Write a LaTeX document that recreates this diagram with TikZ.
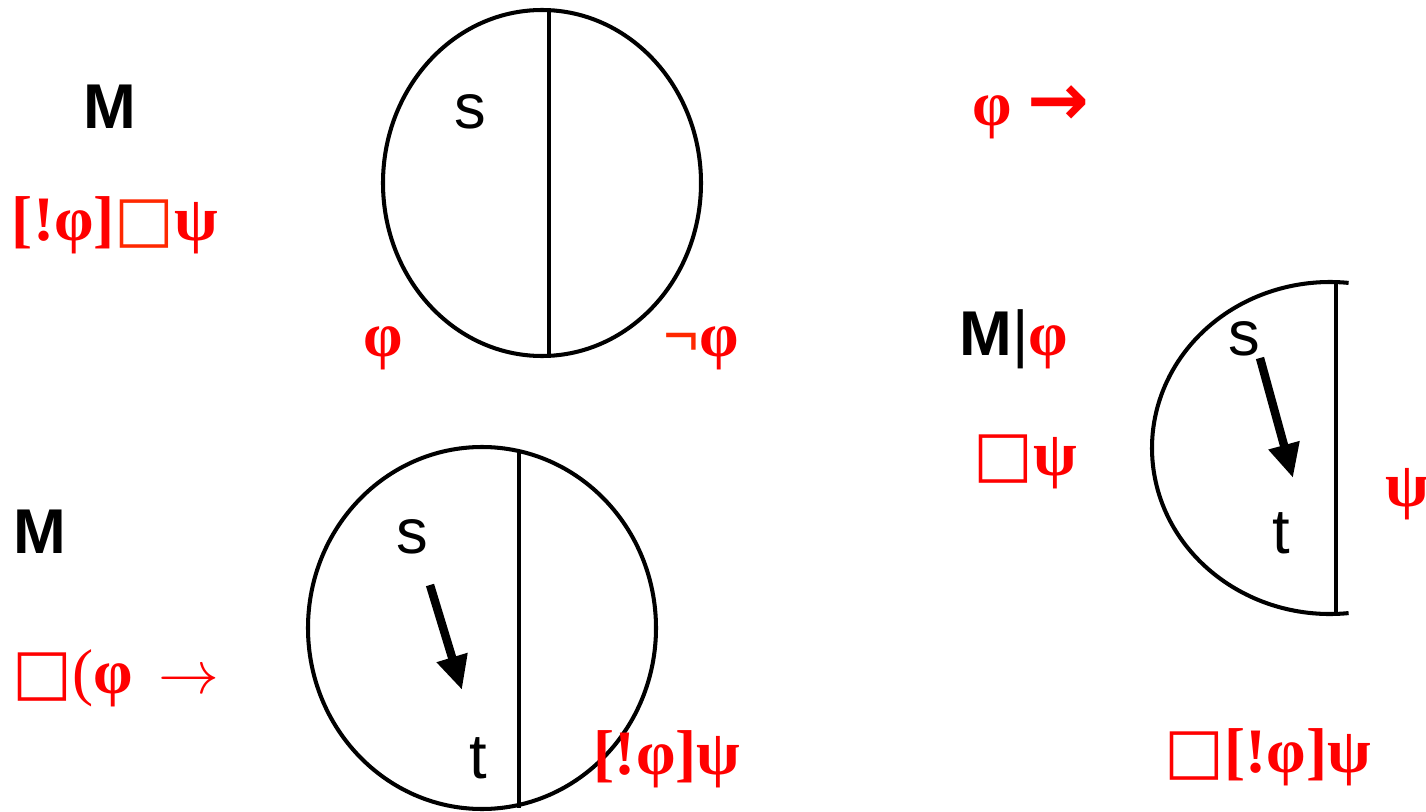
\documentclass[tikz,border=0pt]{standalone}
\usepackage{fontspec}
\setmainfont{Liberation Serif}
\newfontfamily\arialf{Liberation Sans}
\newfontfamily\dvsf{DejaVu Sans}
\usetikzlibrary{arrows.meta}
\definecolor{lred}{RGB}{255,0,0}
\definecolor{ored}{RGB}{255,40,0}
\newcommand{\mybox}{{\dvsf\bfseries □}}
\tikzset{
  lab/.style={inner sep=0pt, anchor=base, font=\arialf\fontsize{18}{20}\selectfont},
  bm/.style={inner sep=0pt, anchor=base, font=\arialf\bfseries\fontsize{18}{20}\selectfont},
  frm/.style={inner sep=0pt, anchor=base, text=lred, font=\bfseries\fontsize{18}{20}\selectfont},
  outline/.style={line width=1.15pt},
  sepline/.style={line width=1.35pt},
  acc/.style={line width=2.4pt, -{Triangle[length=0.34cm,width=0.3cm]}},
}
\begin{document}
\begin{tikzpicture}[x=0.01cm,y=-0.01cm]
\useasboundingbox (0,0) rectangle (1426,812);
% top-left model
\node[bm] (m1) at (110,128) {M};
\node[frm] (f1) at (115,240) {[!φ]\textcolor{ored}{\mybox}ψ};
\draw[outline] (542,183) ellipse [x radius=159, y radius=173];
\draw[sepline] (549,10) -- (549,357);
\node[lab] (s1) at (470,128) {s};
\node[frm] (phi1) at (383,356) {φ};
\node[frm] (nphi1) at (701,356) {\textcolor{ored}{¬}φ};
% bottom-left model
\node[bm] (m2) at (40,553) {M};
\node[frm] (f2) at (116,693) {\mybox{\mdseries(}φ\, $\rightarrow$};
\draw[outline] (482,628) ellipse [x radius=174, y radius=181];
\draw[sepline] (519,450) -- (519,808);
\node[lab] (s2) at (412,553) {s};
\node[lab] (t2) at (478,778) {t};
\coordinate (a2s) at (430,585);
\coordinate (a2e) at (462,690);
\draw[acc] (a2s) -- (a2e);
\node[frm] (f3) at (667,774) {[!φ]ψ};
% right model
\node[frm] (f4) at (1031,126) {φ {\dvsf\bfseries\fontsize{21}{22}\selectfont →}};
\node[inner sep=0pt, anchor=base] (m3) at (1014,355) {{\arialf\bfseries\fontsize{18}{20}\selectfont M}{\arialf\fontsize{18}{20}\selectfont|}{\color{lred}\bfseries\fontsize{18}{20}\selectfont φ}};
\node[frm] (f5) at (1025,475) {\mybox ψ};
\draw[outline] (1330,448) ++(84:178 and 166) arc [start angle=84, end angle=276, x radius=178, y radius=166];
\draw[sepline] (1336,283) -- (1336,612);
\node[lab] (s3) at (1244,355) {s};
\node[lab] (t3) at (1281,553) {t};
\coordinate (a3s) at (1260,358);
\coordinate (a3e) at (1293,478);
\draw[acc] (a3s) -- (a3e);
\node[frm, anchor=base west] (psi3) at (1385,506) {ψ};
\node[frm] (f6) at (1268,772) {\mybox[!φ]ψ};
\end{tikzpicture}
\end{document}
